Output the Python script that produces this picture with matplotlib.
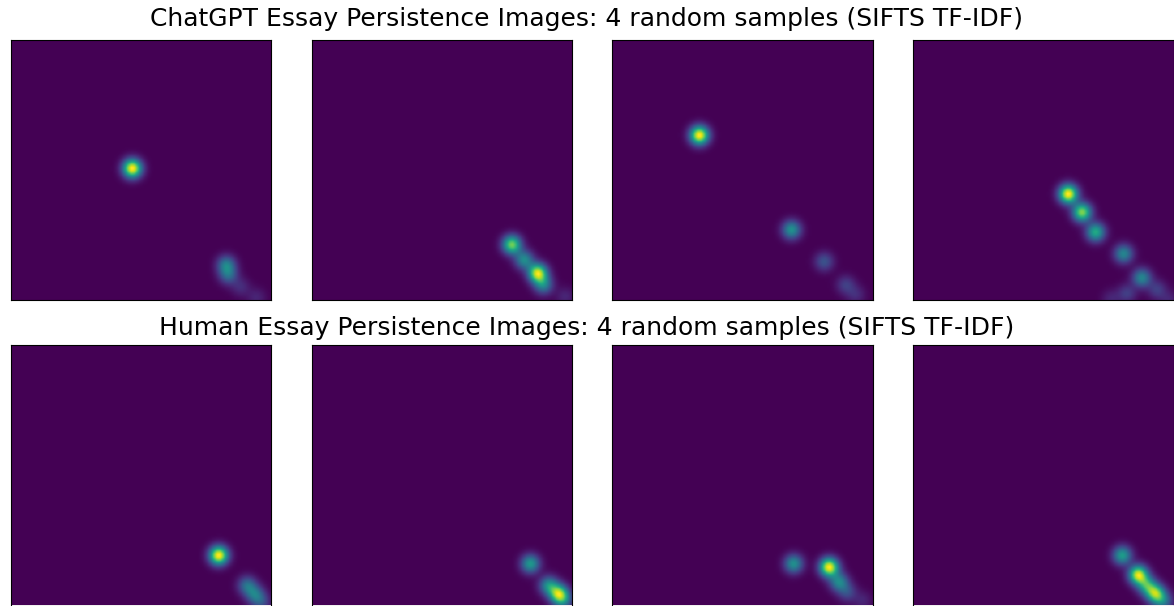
import numpy as np
import matplotlib
matplotlib.use("Agg")
from matplotlib import pyplot as plt

# persistence points per sample, in image fractions: column (x), row from top (y), weight
chatgpt_x = [[0.465, 0.825, 0.833, 0.88, 0.94],
             [0.766, 0.813, 0.865, 0.887, 0.97],
             [0.335, 0.688, 0.813, 0.896, 0.934],
             [0.595, 0.648, 0.70, 0.807, 0.877, 0.82, 0.76, 0.935, 0.98]]
chatgpt_y = [[0.496, 0.865, 0.905, 0.95, 0.99],
             [0.788, 0.846, 0.897, 0.942, 0.987],
             [0.369, 0.731, 0.853, 0.942, 0.98],
             [0.594, 0.664, 0.74, 0.823, 0.915, 0.975, 0.995, 0.96, 1.0]]
chatgpt_w = [[1.0, 0.4, 0.3, 0.12, 0.1],
             [0.75, 0.45, 0.9, 0.4, 0.1],
             [1.0, 0.5, 0.25, 0.18, 0.12],
             [1.0, 0.8, 0.6, 0.45, 0.45, 0.18, 0.1, 0.18, 0.1]]

human_x = [[0.796, 0.905, 0.935, 0.96],
           [0.837, 0.907, 0.945, 0.964],
           [0.696, 0.832, 0.87, 0.902, 0.96],
           [0.802, 0.863, 0.896, 0.93, 0.96]]
human_y = [[0.81, 0.925, 0.96, 0.99],
           [0.842, 0.925, 0.957, 0.983],
           [0.842, 0.855, 0.912, 0.951, 0.983],
           [0.81, 0.884, 0.925, 0.957, 0.987]]
human_w = [[1.0, 0.35, 0.35, 0.2],
           [0.5, 0.45, 0.75, 0.3],
           [0.5, 1.0, 0.45, 0.22, 0.1],
           [0.5, 0.85, 0.5, 0.7, 0.3]]

titles = ['ChatGPT Essay Persistence Images: 4 random samples (SIFTS TF-IDF)',
          'Human Essay Persistence Images: 4 random samples (SIFTS TF-IDF)']

N = 200
SIGMA = 0.025
g = (np.arange(N) + 0.5) / N
gx, gy = np.meshgrid(g, g)


def persistence_image(xs, ys, ws):
    img = np.zeros((N, N))
    for x, y, w in zip(xs, ys, ws):
        img += w * np.exp(-((gx - x) ** 2 + (gy - y) ** 2) / (2 * SIGMA ** 2))
    return img


fig = plt.figure(figsize=(11.74, 6.06), dpi=100)
W, H = 1174.0, 606.0
lefts = [10.7, 311.7, 612.3, 913.3]
tops = [40, 345]
size = 260.5

rows = [(chatgpt_x, chatgpt_y, chatgpt_w), (human_x, human_y, human_w)]
for r, (xs, ys, ws) in enumerate(rows):
    for c in range(4):
        ax = fig.add_axes([lefts[c] / W, 1 - (tops[r] + size) / H, size / W, size / H])
        ax.imshow(persistence_image(xs[c], ys[c], ws[c]), cmap='viridis', aspect='auto')
        ax.set_xticks([]), ax.set_yticks([])

fig.text(0.5, 1 - 19 / H, titles[0], ha='center', va='center', fontsize=18)
fig.text(0.5, 1 - 328 / H, titles[1], ha='center', va='center', fontsize=18)

fig.savefig('out.png', dpi=100)
